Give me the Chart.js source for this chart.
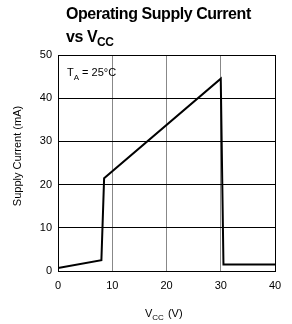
<!DOCTYPE html>
<html><head><meta charset="utf-8">
<script src="https://cdn.jsdelivr.net/npm/chart.js@4"></script>
<style>html,body{margin:0;padding:0;background:#fff;}#c{display:block;}</style>
</head><body>
<div style="width:292px;height:324px;position:relative"><canvas id="c" width="292" height="324"></canvas></div>
<script>
const vcc = [0, 8, 8.5, 30, 30.5, 40];
const icc = [0.7, 2.5, 21.5, 44.5, 1.5, 1.5];
const xTicks = [0, 10, 20, 30, 40];
const yTicks = [0, 10, 20, 30, 40, 50];

const FONT = '"Liberation Sans", Arial, sans-serif';

const textPlugin = {
  id: 'texts',
  afterDraw(chart) {
    const ctx = chart.ctx;
    ctx.save();
    ctx.fillStyle = '#000';
    ctx.textBaseline = 'alphabetic';
    ctx.textAlign = 'left';
    // title
    ctx.font = 'bold 16px ' + FONT;
    if ('letterSpacing' in ctx) ctx.letterSpacing = '-0.45px';
    ctx.fillText('Operating Supply Current', 66, 19);
    ctx.fillText('vs V', 66, 42);
    let w = ctx.measureText('vs V').width;
    ctx.font = 'bold 12px ' + FONT;
    ctx.fillText('CC', 66 + w, 46);
    if ('letterSpacing' in ctx) ctx.letterSpacing = '0px';
    // x label
    ctx.font = '11px ' + FONT;
    let x = 145;
    ctx.fillText('V', x, 317);
    x += ctx.measureText('V').width;
    ctx.font = '8px ' + FONT;
    ctx.fillText('CC', x, 320);
    x += ctx.measureText('CC').width;
    ctx.font = '11px ' + FONT;
    ctx.fillText(' (V)', x + 1, 317);
    // T_A annotation
    x = 67;
    ctx.fillText('T', x, 76);
    x += ctx.measureText('T').width;
    ctx.font = '8px ' + FONT;
    ctx.fillText('A', x, 80);
    x += ctx.measureText('A').width;
    ctx.font = '11px ' + FONT;
    ctx.fillText(' = 25\u00B0C', x, 76);
    // y label
    ctx.translate(18, 156);
    ctx.rotate(-Math.PI / 2);
    ctx.textAlign = 'center';
    ctx.textBaseline = 'middle';
    ctx.font = '11px ' + FONT;
    ctx.fillText('Supply Current (mA)', 0, 0);
    ctx.restore();
  }
};

new Chart(document.getElementById('c'), {
  type: 'line',
  data: {
    datasets: [{
      data: vcc.map((v, i) => ({x: v, y: icc[i]})),
      borderColor: '#000',
      borderWidth: 2,
      pointRadius: 0,
      tension: 0,
      fill: false
    }]
  },
  options: {
    responsive: false,
    animation: false,
    devicePixelRatio: 1,
    layout: {padding: {top: 55, right: 17, left: 0, bottom: 0}},
    plugins: {legend: {display: false}, tooltip: {enabled: false}, title: {display: false}},
    scales: {
      x: {
        type: 'linear', min: 0, max: 40,
        afterFit: s => { s.height = 53; },
        afterBuildTicks: s => { s.ticks = xTicks.map(v => ({value: v})); },
        grid: {
          color: c => (c.tick && (c.tick.value === 0 || c.tick.value === 40)) ? '#000' : '#888',
          lineWidth: 1, drawTicks: false
        },
        border: {display: true, color: '#000', width: 1},
        ticks: {color: '#000', font: {family: FONT, size: 11}, padding: 8, maxRotation: 0}
      },
      y: {
        type: 'linear', min: 0, max: 50,
        afterFit: s => { s.width = 58; },
        afterBuildTicks: s => { s.ticks = yTicks.map(v => ({value: v})); },
        grid: {color: '#000', lineWidth: 1, drawTicks: false},
        border: {display: true, color: '#000', width: 1},
        ticks: {color: '#000', font: {family: FONT, size: 11}, padding: 6}
      }
    }
  },
  plugins: [textPlugin]
});
</script>
</body></html>
